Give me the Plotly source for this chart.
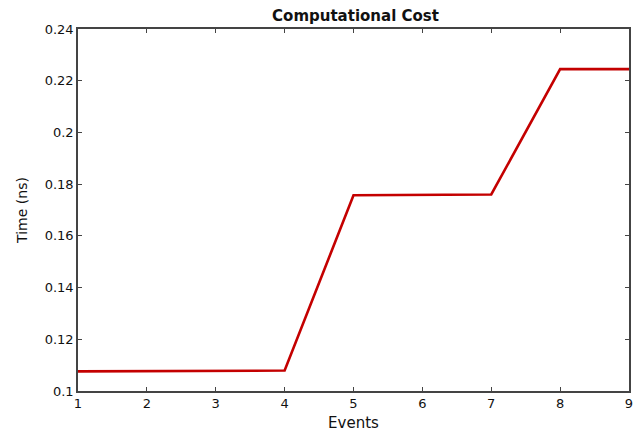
import plotly.graph_objects as go

events = [1, 2, 3, 4, 5, 6, 7, 8, 9]
time_ns = [0.1076, 0.1077, 0.1078, 0.1079, 0.1757, 0.1758, 0.1760, 0.2245, 0.2245]
x_ticks = [1, 2, 3, 4, 5, 6, 7, 8, 9]
y_ticks = [0.1, 0.12, 0.14, 0.16, 0.18, 0.2, 0.22, 0.24]
y_tick_labels = ["0.1", "0.12", "0.14", "0.16", "0.18", "0.2", "0.22", "0.24"]

fig = go.Figure()
fig.add_trace(go.Scatter(x=events, y=time_ns, mode="lines",
                         line=dict(color="#c40000", width=2.6), showlegend=False,
                         cliponaxis=False))

font_family = "DejaVu Sans, Liberation Sans, Arial, sans-serif"
axis_common = dict(showgrid=False, zeroline=False, showline=True, linecolor="#444444",
                   linewidth=1.5, mirror="ticks", ticks="inside", ticklen=4,
                   tickcolor="#444444", tickwidth=1,
                   tickfont=dict(family=font_family, size=13, color="#111111"))

W, H = 633, 429
L, R, T, B = 70, 8, 21, 46

fig.update_layout(
    width=W, height=H,
    margin=dict(l=L, r=R, t=T, b=B),
    paper_bgcolor="white", plot_bgcolor="white",
    title=dict(text="<b>Computational Cost</b>", x=(L + W - R) / 2 / W, xanchor="center",
               y=1 - 8 / H, yanchor="middle",
               font=dict(family=font_family, size=15, color="#111111")),
    xaxis=dict(range=[1, 9], tickvals=x_ticks,
               title=dict(text="Events", standoff=7,
                          font=dict(family=font_family, size=15, color="#111111")),
               **axis_common),
    yaxis=dict(range=[0.1, 0.24], tickvals=y_ticks, ticktext=y_tick_labels,
               title=dict(text="Time (ns)", standoff=14,
                          font=dict(family=font_family, size=14, color="#111111")),
               **axis_common),
)

fig.write_html("out.html")
